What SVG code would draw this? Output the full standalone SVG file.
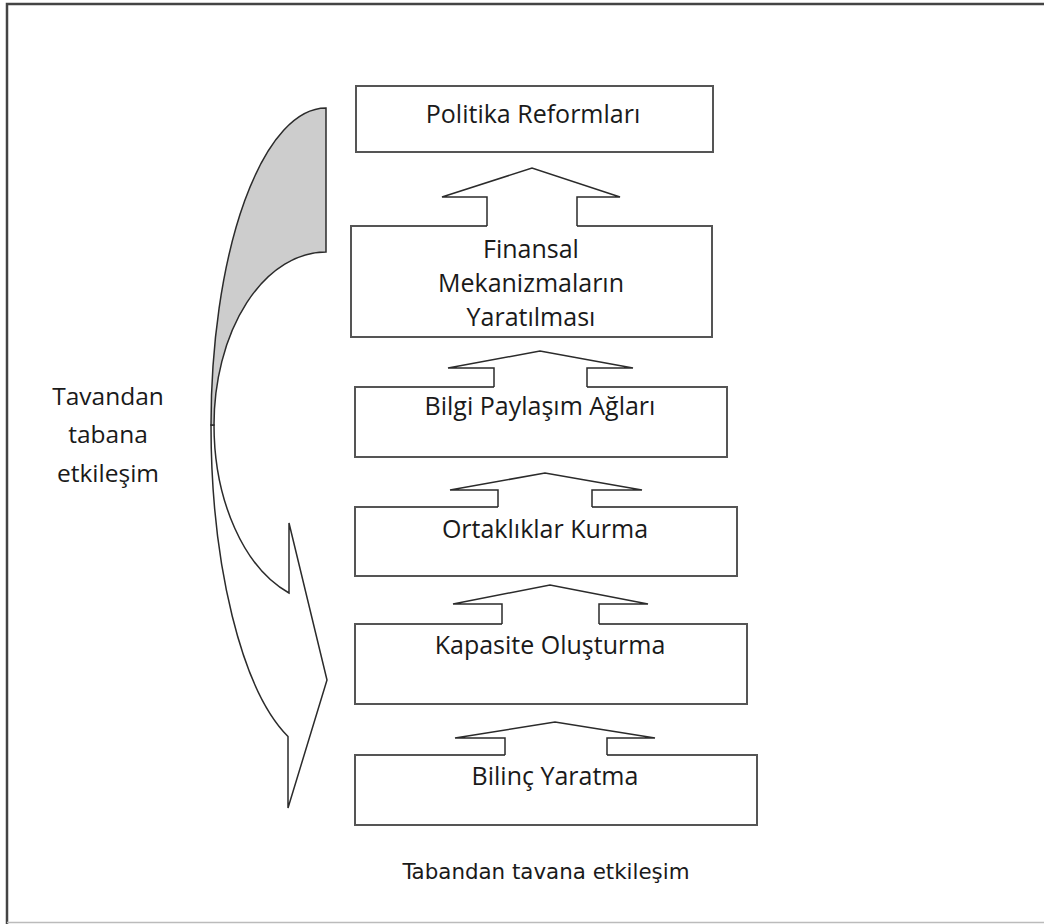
<svg xmlns="http://www.w3.org/2000/svg" width="1044" height="924" viewBox="0 0 1044 924">
  <style>
    .box { fill: #ffffff; stroke: #555555; stroke-width: 2; }
    .lbl { font-family: "Open Sans", "Noto Sans", sans-serif; font-size: 25px; fill: #1a1a1a; text-anchor: middle; }
    .side { font-family: "Open Sans", "Noto Sans", sans-serif; font-size: 24.5px; fill: #1a1a1a; text-anchor: middle; }
    .foot { font-family: "DejaVu Sans Condensed", "DejaVu Sans", sans-serif; font-size: 21px; fill: #1a1a1a; text-anchor: middle; }
    .up-fill { fill: #ffffff; stroke: none; }
    .up-line { fill: none; stroke: #2b2b2b; stroke-width: 1.5; stroke-linejoin: miter; }
    .curve-back { fill: #cdcdcd; stroke: #2b2b2b; stroke-width: 1.5; }
    .curve-front { fill: #ffffff; stroke: #2b2b2b; stroke-width: 1.5; stroke-linejoin: miter; }
  </style>

  <rect width="1044" height="924" fill="#ffffff"/>

  <!-- page frame -->
  <path d="M1044,4 H7 V924" fill="none" stroke="#444444" stroke-width="2.5"/>
  <line x1="7" y1="922.5" x2="1044" y2="922.5" stroke="#bbbbbb" stroke-width="1.5"/>

  <!-- curved top-down arrow on the left -->
  <g id="curved-arrow">
    <path class="curve-front" d="M211,425 A115,330 0 0 0 288,736.5 L288,808 L327,680 L289,523 L289,593 A112,178 0 0 1 214,425 Z"/>
    <path class="curve-back" d="M326,108 A115,317 0 0 0 211,425 L214,425 A112,173 0 0 1 326,252 Z"/>
  </g>

  <g id="side-label">
    <text class="side" x="108" y="405">Tavandan</text>
    <text class="side" x="108" y="443">tabana</text>
    <text class="side" x="108" y="482">etkileşim</text>
  </g>

  <!-- stacked steps -->
  <g id="node-politika">
    <rect class="box" x="356" y="86" width="357" height="66"/>
    <text class="lbl" x="533" y="123" font-size="25.5">Politika Reformları</text>
  </g>
  <g id="node-finansal">
    <rect class="box" x="351" y="226" width="361" height="111"/>
    <text class="lbl" x="531" y="258">Finansal</text>
    <text class="lbl" x="531" y="292">Mekanizmaların</text>
    <text class="lbl" x="531" y="326">Yaratılması</text>
  </g>
  <g id="node-bilgi">
    <rect class="box" x="355" y="387" width="372" height="70"/>
    <text class="lbl" x="540" y="415">Bilgi Paylaşım Ağları</text>
  </g>
  <g id="node-ortaklik">
    <rect class="box" x="355" y="507" width="382" height="69"/>
    <text class="lbl" x="545" y="538">Ortaklıklar Kurma</text>
  </g>
  <g id="node-kapasite">
    <rect class="box" x="355" y="624" width="392" height="80"/>
    <text class="lbl" x="550" y="654">Kapasite Oluşturma</text>
  </g>
  <g id="node-bilinc">
    <rect class="box" x="355" y="755" width="402" height="70"/>
    <text class="lbl" x="555" y="785">Bilinç Yaratma</text>
  </g>

  <!-- upward block arrows between steps -->
  <g id="connectors">
    <g>
      <polygon class="up-fill" points="487,227.5 487,197 442,197 532,168 620,197 577,197 577,227.5"/>
      <polyline class="up-line" points="487,226 487,197 442,197 532,168 620,197 577,197 577,226"/>
    </g>
    <g>
      <polygon class="up-fill" points="494,388.5 494,368 448,368 540,351 633,368 587,368 587,388.5"/>
      <polyline class="up-line" points="494,387 494,368 448,368 540,351 633,368 587,368 587,387"/>
    </g>
    <g>
      <polygon class="up-fill" points="498,508.5 498,490 450,490 545,473 642,490 592,490 592,508.5"/>
      <polyline class="up-line" points="498,507 498,490 450,490 545,473 642,490 592,490 592,507"/>
    </g>
    <g>
      <polygon class="up-fill" points="502,625.5 502,604 453,604 550,585 648,604 599,604 599,625.5"/>
      <polyline class="up-line" points="502,624 502,604 453,604 550,585 648,604 599,604 599,624"/>
    </g>
    <g>
      <polygon class="up-fill" points="505,756.5 505,738 455,738 555,722 655,738 607,738 607,756.5"/>
      <polyline class="up-line" points="505,755 505,738 455,738 555,722 655,738 607,738 607,755"/>
    </g>
  </g>

  <text class="foot" x="546" y="879" textLength="287" lengthAdjust="spacingAndGlyphs">Tabandan tavana etkileşim</text>
</svg>
